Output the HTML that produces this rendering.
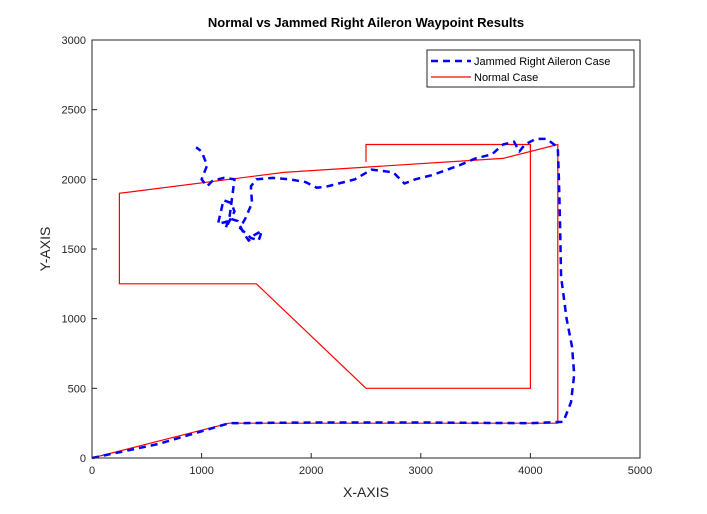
<!DOCTYPE html>
<html><head><meta charset="utf-8"><style>
body{margin:0;background:#fff;}
svg{display:block;font-family:"Liberation Sans",Arial,sans-serif;}
</style></head><body>
<svg id="chart" width="707" height="514" viewBox="0 0 707 514">
<rect x="0" y="0" width="707" height="514" fill="#fff"/>
<text x="366" y="27" text-anchor="middle" font-size="13" font-weight="bold" fill="#000">Normal vs Jammed Right Aileron Waypoint Results</text>
<g id="ticks"></g>
<g id="series"></g>
<rect x="92" y="40" width="548" height="418" fill="none" stroke="#262626" stroke-width="1"/>
<text x="366" y="497" text-anchor="middle" font-size="14" fill="#262626">X-AXIS</text>
<text x="0" y="0" transform="translate(50,249) rotate(-90)" text-anchor="middle" font-size="14" fill="#262626">Y-AXIS</text>
<g>
<rect x="427" y="50" width="207" height="37" fill="#fff" stroke="#262626" stroke-width="1"/>
<line x1="431" y1="61" x2="471" y2="61" stroke="#0000ff" stroke-width="2.5" stroke-dasharray="7,5"/>
<text x="474" y="65" font-size="11" fill="#000">Jammed Right Aileron Case</text>
<line x1="431" y1="77" x2="471" y2="77" stroke="#ff0000" stroke-width="1.2"/>
<text x="474" y="81" font-size="11" fill="#000">Normal Case</text>
</g>
</svg>
<script>
const xTicks=[0,1000,2000,3000,4000,5000];
const yTicks=[0,500,1000,1500,2000,2500,3000];
const normalX=[0,1250,4250,4250,3750,1750,250,250,1500,2500,4000,4000,2500,2500];
const normalY=[0,250,250,2250,2150,2050,1900,1250,1250,500,500,2250,2250,2125];
const jammedX=[0,600,1250,2000,3000,4000,4300,4370,4400,4380,4330,4280,4270,4260,4250,4150,4050,3950,3900,3850,3750,3650,3500,3350,3100,2950,2850,2750,2550,2400,2250,2150,2050,1950,1800,1650,1500,1450,1460,1400,1350,1450,1520,1550,1480,1430,1380,1330,1250,1220,1300,1270,1200,1150,1250,1300,1200,1100,1050,1000,1050,1000,950];
const jammedY=[0,100,250,255,255,250,260,400,600,800,1000,1300,1700,2000,2230,2290,2290,2250,2200,2270,2250,2180,2150,2100,2030,2000,1970,2050,2070,2000,1970,1950,1940,1980,2000,2010,2000,1950,1830,1720,1650,1580,1560,1630,1600,1560,1620,1700,1720,1650,1770,1830,1850,1680,1700,2000,2010,1990,1950,2000,2100,2200,2230];
const X0=92,X1=640,Y0=458,Y1=40;
const sx=v=>X0+(v-0)/5000*(X1-X0);
const sy=v=>Y0-(v-0)/3000*(Y0-Y1);
const NS="http://www.w3.org/2000/svg";
const tg=document.getElementById('ticks');
xTicks.forEach(t=>{
 const l=document.createElementNS(NS,'line');
 l.setAttribute('x1',sx(t));l.setAttribute('x2',sx(t));l.setAttribute('y1',Y0);l.setAttribute('y2',Y0-5);
 l.setAttribute('stroke','#262626');
 
 
 tg.appendChild(l);
 const tx=document.createElementNS(NS,'text');
 tx.setAttribute('x',sx(t));tx.setAttribute('y',Y0+16);tx.setAttribute('text-anchor','middle');tx.setAttribute('font-size','11');tx.setAttribute('fill','#262626');
 tx.textContent=t;
 
 
 tg.appendChild(tx);
});
yTicks.forEach(t=>{
 const l=document.createElementNS(NS,'line');
 l.setAttribute('x1',X0);l.setAttribute('x2',X0+5);l.setAttribute('y1',sy(t));l.setAttribute('y2',sy(t));
 l.setAttribute('stroke','#262626');
 
 
 tg.appendChild(l);
 const tx=document.createElementNS(NS,'text');
 tx.setAttribute('x',X0-6);tx.setAttribute('y',sy(t)+4);tx.setAttribute('text-anchor','end');tx.setAttribute('font-size','11');tx.setAttribute('fill','#262626');
 tx.textContent=t;
 
 
 tg.appendChild(tx);
});
const sg=document.getElementById('series');
function pts(xs,ys){return xs.map((x,i)=>sx(x).toFixed(1)+','+sy(ys[i]).toFixed(1)).join(' ');}
const n=document.createElementNS(NS,'polyline');
n.setAttribute('points',pts(normalX,normalY));
n.setAttribute('fill','none');n.setAttribute('stroke','#ff0000');n.setAttribute('stroke-width','1.2');


sg.appendChild(n);
const j=document.createElementNS(NS,'polyline');
j.setAttribute('points',pts(jammedX,jammedY));
j.setAttribute('fill','none');j.setAttribute('stroke','#0000ff');j.setAttribute('stroke-width','2.5');j.setAttribute('stroke-dasharray','7,5');j.setAttribute('stroke-linejoin','round');


sg.appendChild(j);
</script>
</body></html>
